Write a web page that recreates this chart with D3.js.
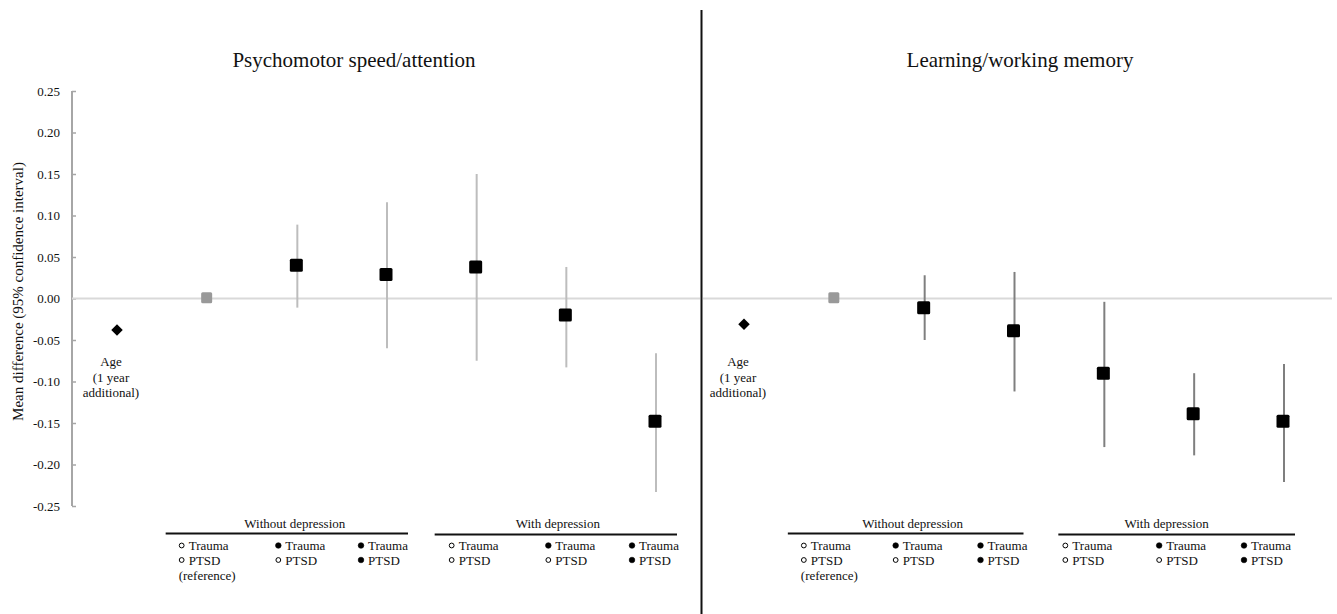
<!DOCTYPE html>
<html>
<head>
<meta charset="utf-8">
<script src="https://cdn.jsdelivr.net/npm/d3@7"></script>
<style>
  html, body { margin: 0; padding: 0; background: #fff; }
  svg { display: block; }
  text { font-family: "Liberation Serif", "Times New Roman", serif; fill: #111; }
</style>
</head>
<body>
<svg id="chart" width="1337" height="614"></svg>
<script>
// ---------------- DATA ----------------
const categories = ["Age", "Ref", "T-noPTSD", "T-PTSD", "Dep-noT", "Dep-T-noPTSD", "Dep-T-PTSD"];
const panelTitles = ["Psychomotor speed/attention", "Learning/working memory"];

// Psychomotor speed/attention
const psychEstimate = [-0.038, 0.001, 0.040, 0.029, 0.038, -0.020, -0.148];
const psychLower    = [null,   null,  -0.011, -0.060, -0.075, -0.083, -0.233];
const psychUpper    = [null,   null,   0.089,  0.116,  0.150,  0.038, -0.066];

// Learning/working memory
const learnEstimate = [-0.031, 0.001, -0.011, -0.039, -0.090, -0.139, -0.148];
const learnLower    = [null,   null,  -0.050, -0.112, -0.179, -0.189, -0.221];
const learnUpper    = [null,   null,   0.028,  0.032, -0.004, -0.090, -0.079];

const tickValues = [0.25, 0.20, 0.15, 0.10, 0.05, 0.00, -0.05, -0.10, -0.15, -0.20, -0.25];
const tickLabels = ["0.25", "0.20", "0.15", "0.10", "0.05", "0.00", "-0.05", "-0.10", "-0.15", "-0.20", "-0.25"];

const ageLabel = ["Age", "(1 year", "additional)"];
const groupLabels = ["Without depression", "With depression"];
// legend rows for each non-age category: [trauma filled?, PTSD filled?, extra line]
const legendTrauma = [false, true, true, false, true, true];
const legendPTSD   = [false, false, true, false, false, true];
const legendExtra  = ["(reference)", "", "", "", "", ""];
const yAxisTitle = "Mean difference (95% confidence interval)";

// ---------------- LAYOUT ----------------
const svg = d3.select("#chart");
const y = d3.scaleLinear().domain([-0.25, 0.25]).range([506, 91]);

const panels = [
  { title: panelTitles[0], est: psychEstimate, lo: psychLower, hi: psychUpper,
    xRange: [117, 655], titleX: 354, zeroX: [72, 700], ciColor: "#bdbdbd",
    legendOff: [-28, -21, -28, -27, -20, -26], ulOff: [[-41, 22], [-41, 22]],
    groupLabelOff: [8, 2], axis: true },
  { title: panelTitles[1], est: learnEstimate, lo: learnLower, hi: learnUpper,
    xRange: [744, 1283], titleX: 1020, zeroX: [703, 1332], ciColor: "#7f7f7f",
    legendOff: [-33, -31, -36, -41, -37, -42], ulOff: [[-46, 10], [-45, 12]],
    groupLabelOff: [7, -10], axis: false }
];

// Y axis (left panel)
const axisG = svg.append("g").attr("transform", "translate(72,0)");
const yAxis = d3.axisRight(y).tickValues(tickValues).tickSize(4)
  .tickFormat((d, i) => "");
axisG.call(yAxis);
axisG.select(".domain").attr("stroke", "#a6a6a6").attr("stroke-width", 2)
  .attr("d", `M0,${y(0.25)}V${y(-0.25)}`);
axisG.selectAll(".tick line").attr("stroke", "#a6a6a6").attr("stroke-width", 1.5);
axisG.selectAll(".tick text").remove();
svg.append("g").selectAll("text").data(tickValues).join("text")
  .attr("x", 60).attr("y", d => y(d)).attr("dy", "0.35em")
  .attr("text-anchor", "end").attr("font-size", 13)
  .text((d, i) => tickLabels[i]);

svg.append("text")
  .attr("transform", `translate(23,${y(0) - 7}) rotate(-90)`)
  .attr("text-anchor", "middle").attr("font-size", 15)
  .text(yAxisTitle);

// Divider
svg.append("line").attr("x1", 701.5).attr("x2", 701.5).attr("y1", 10).attr("y2", 614)
  .attr("stroke", "#111").attr("stroke-width", 2);

panels.forEach(p => {
  const g = svg.append("g");
  const x = d3.scalePoint().domain(categories).range(p.xRange);

  // title
  g.append("text").attr("x", p.titleX).attr("y", 67).attr("text-anchor", "middle")
    .attr("font-size", 21).text(p.title);

  // zero line
  g.append("line").attr("x1", p.zeroX[0]).attr("x2", p.zeroX[1])
    .attr("y1", y(0)).attr("y2", y(0)).attr("stroke", "#d9d9d9").attr("stroke-width", 2);

  const data = categories.map((c, i) => ({ c, i, est: p.est[i], lo: p.lo[i], hi: p.hi[i] }));

  // CIs
  g.selectAll("line.ci").data(data.filter(d => d.lo !== null)).join("line")
    .attr("class", "ci")
    .attr("x1", d => x(d.c) + 1).attr("x2", d => x(d.c) + 1)
    .attr("y1", d => y(d.hi)).attr("y2", d => y(d.lo))
    .attr("stroke", p.ciColor).attr("stroke-width", 2);

  // squares
  g.selectAll("rect.pt").data(data.filter(d => d.i >= 1)).join("rect")
    .attr("class", "pt")
    .attr("x", d => x(d.c) - (d.i === 1 ? 5.5 : 6.5))
    .attr("y", d => y(d.est) - (d.i === 1 ? 5.5 : 6.5))
    .attr("width", d => d.i === 1 ? 11 : 13).attr("height", d => d.i === 1 ? 11 : 13)
    .attr("rx", 1.5)
    .attr("fill", d => d.i === 1 ? "#999999" : "#000");

  // age diamond
  const age = data[0];
  g.append("path")
    .attr("d", d3.symbol(d3.symbolDiamond2, 85)())
    .attr("transform", `translate(${x(age.c)},${y(age.est)})`)
    .attr("fill", "#000");
  g.append("g").selectAll("text").data(ageLabel).join("text")
    .attr("x", x(age.c) - 6).attr("y", (d, i) => 366 + i * 15.5)
    .attr("text-anchor", "middle").attr("font-size", 13).text(d => d);

  // group labels + underlines
  const groups = [categories.slice(1, 4), categories.slice(4, 7)];
  groups.forEach((cats, gi) => {
    const x0 = x(cats[0]) + p.ulOff[gi][0];
    const x1 = x(cats[2]) + p.ulOff[gi][1];
    g.append("line").attr("x1", x0).attr("x2", x1)
      .attr("y1", 533.5 + gi).attr("y2", 533.5 + gi)
      .attr("stroke", "#111").attr("stroke-width", 2);
    g.append("text").attr("x", (x0 + x1) / 2 + p.groupLabelOff[gi]).attr("y", 527.5)
      .attr("text-anchor", "middle").attr("font-size", 13).text(groupLabels[gi]);
  });

  // legend rows
  categories.slice(1).forEach((c, j) => {
    const sx = x(c) + p.legendOff[j];
    const rows = [["Trauma", legendTrauma[j]], ["PTSD", legendPTSD[j]]];
    rows.forEach((r, ri) => {
      const cy = 545.5 + ri * 14.5;
      g.append("circle").attr("cx", sx + 3).attr("cy", cy).attr("r", r[1] ? 2.8 : 2.4)
        .attr("fill", r[1] ? "#000" : "#fff").attr("stroke", "#000").attr("stroke-width", r[1] ? 0.6 : 1);
      g.append("text").attr("x", sx + 10).attr("y", cy + 4.5).attr("font-size", 13).text(r[0]);
    });
    if (legendExtra[j]) {
      g.append("text").attr("x", sx).attr("y", 545.5 + 29.5 + 4.5).attr("font-size", 13).text(legendExtra[j]);
    }
  });
});
</script>
</body>
</html>
